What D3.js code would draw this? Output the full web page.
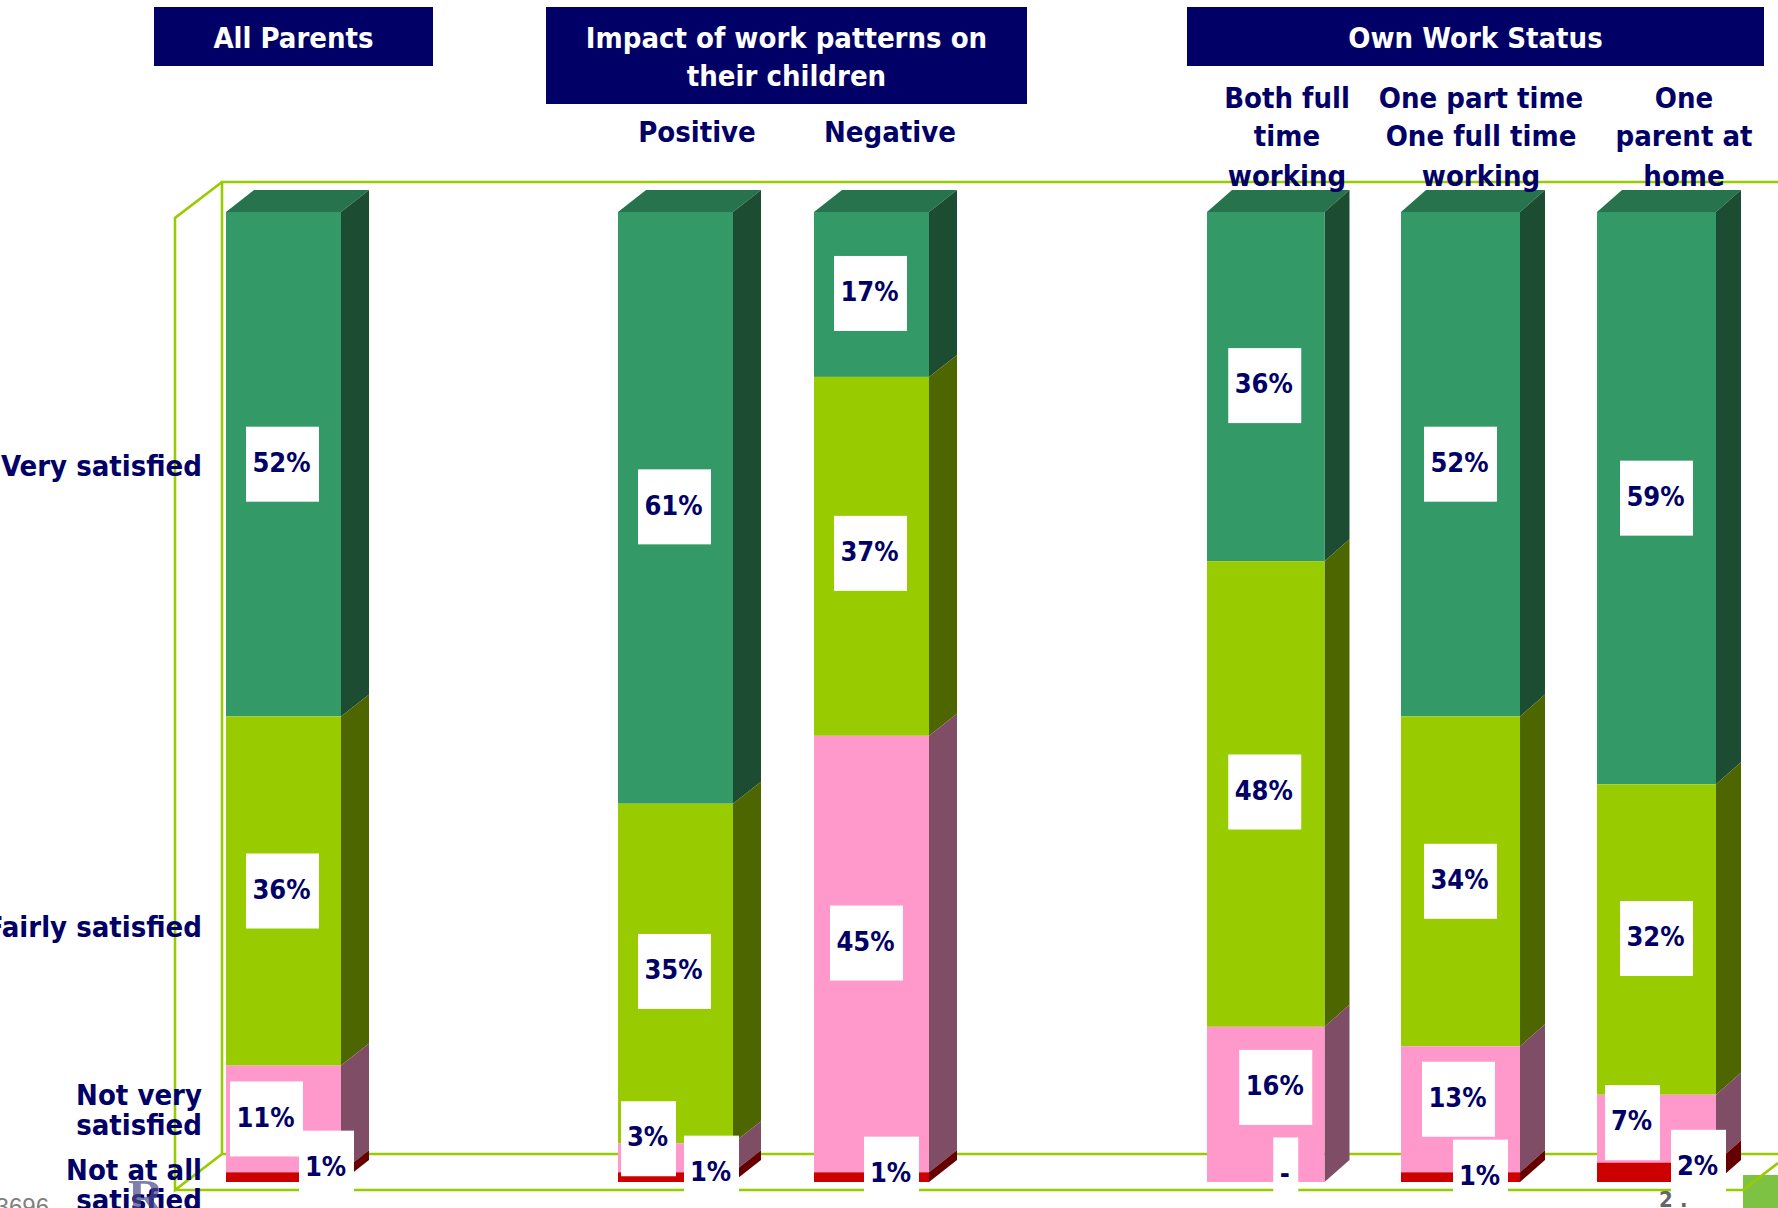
<!DOCTYPE html>
<html>
<head>
<meta charset="utf-8">
<script src="https://cdn.jsdelivr.net/npm/d3@7"></script>
<style>
  html, body { margin: 0; padding: 0; background: #fff; overflow: hidden; }
  svg { display: block; }
  text { font-family: "DejaVu Sans Condensed", "DejaVu Sans", sans-serif; font-weight: 700; fill: #000066; }
</style>
</head>
<body>
<div id="root"></div>
<script>
'use strict';

// data, percent of each bar
var bars = ['All Parents', 'Positive', 'Negative', 'Both full time working', 'One part time One full time working', 'One parent at home'];
var levels = ['Very satisfied', 'Fairly satisfied', 'Not very satisfied', 'Not at all satisfied'];
var verySatisfied = [52, 61, 17, 36, 52, 59];
var fairlySatisfied = [36, 35, 37, 48, 34, 32];
var notVerySatisfied = [11, 3, 45, 16, 13, 7];
var notAtAllSatisfied = [1, 1, 1, 0, 1, 2];
var seriesValues = [verySatisfied, fairlySatisfied, notVerySatisfied, notAtAllSatisfied];

var rows = bars.map(function (name, i) {
  var row = { name: name };
  levels.forEach(function (level, j) { row[level] = seriesValues[j][i]; });
  return row;
});

// colours of the faces, same order as levels
var frontColors = ['#339966', '#99CC00', '#FF99CC', '#CC0000'];
var sideColors = ['#1C4D33', '#4D6600', '#804D66', '#660000'];
var topColor = '#26734D';
var frameColor = '#99CC00';
var navy = '#000066';

var width = 1778, height = 1208;
var svg = d3.select('#root').append('svg').attr('width', width).attr('height', height);

// left chart has a gap slot after All Parents, right chart is a bit wider
var xLeft = d3.scalePoint().domain([bars[0], '', bars[1], bars[2]]).range([226, 814]);
var xRight = d3.scaleOrdinal().domain(bars.slice(3)).range([1207, 1401, 1597]);
var wRight = d3.scaleOrdinal().domain(bars.slice(3)).range([117.5, 119, 119]);
var y = d3.scaleLinear().domain([0, 100]).range([1182, 212]);

function barX(name) {
  return bars.indexOf(name) < 3 ? xLeft(name) : xRight(name);
}
function barW(name) {
  return bars.indexOf(name) < 3 ? 115 : wRight(name);
}
function depthX(name) {
  return bars.indexOf(name) < 3 ? 28 : 25;
}
var depthY = 22;

// frame
var frame = svg.append('g').attr('fill', 'none').attr('stroke', frameColor).attr('stroke-width', 2.6);
svg.append('rect').attr('x', 1743).attr('y', 1175).attr('width', 35).attr('height', 33).attr('fill', '#7DC242').lower();
[
  [[1778, 182], [222, 182], [222, 1154], [1778, 1154]],
  [[222, 182], [175, 218], [175, 1190], [222, 1154]],
  [[175, 1190], [1743, 1190], [1778, 1163]]
].forEach(function (pts) {
  frame.append('path').attr('d', d3.line()(pts));
});

// bars
var stack = d3.stack().keys(levels)(rows);
var barsG = svg.append('g');

rows.forEach(function (row, i) {
  var x = barX(row.name), w = barW(row.name), dx = depthX(row.name);
  var g = barsG.append('g');

  g.append('path')
    .attr('fill', topColor)
    .attr('d', d3.line()([[x, y(100)], [x + dx, y(100) - depthY], [x + w + dx, y(100) - depthY], [x + w, y(100)]]) + 'Z');

  stack.forEach(function (layer, j) {
    // d3.stack runs bottom up, flip so Very satisfied sits on top
    var y0 = y(100 - layer[i][0]), y1 = y(100 - layer[i][1]);
    g.append('path')
      .attr('fill', sideColors[j])
      .attr('d', d3.line()([[x + w, y0], [x + w + dx, y0 - depthY], [x + w + dx, y1 - depthY], [x + w, y1]]) + 'Z');
    g.append('rect')
      .attr('x', x).attr('y', y0)
      .attr('width', w).attr('height', y1 - y0)
      .attr('fill', frontColors[j]);
  });
});

// how far each white label box sits from the middle of its segment
var labelNudge = [
  [[-1, 0], [-1, 0], [-17, 0], [43, -9]],
  [[-1, -1], [-1, -2], [-27, -19], [36, -4]],
  [[-1, -1], [-1, -3], [-5, -11], [20, -3]],
  [[-1, -1], [-1, -2], [10, -17], [20, -7]],
  [[0, 0], [0, 0], [-2, -10], [20, 0]],
  [[0, 0], [0, -1], [-24, -6], [42, -5]]
];

var labels = svg.append('g');
rows.forEach(function (row, i) {
  stack.forEach(function (layer, j) {
    var value = layer[i].data[levels[j]];
    var cx = barX(row.name) + barW(row.name) / 2 + labelNudge[i][j][0];
    var cy = (y(100 - layer[i][0]) + y(100 - layer[i][1])) / 2 + labelNudge[i][j][1];
    var boxW = value === 0 ? 25 : (value < 10 ? 55 : 73);
    labels.append('rect')
      .attr('x', cx - boxW / 2).attr('y', cy - 37.5)
      .attr('width', boxW).attr('height', 75)
      .attr('fill', '#fff');
    labels.append('text')
      .attr('x', cx - 1).attr('y', cy - 2)
      .attr('dy', '0.36em')
      .attr('text-anchor', 'middle')
      .attr('font-size', 27)
      .text(value === 0 ? '-' : value + '%');
  });
});

// header boxes
var headers = [
  { lines: ['All Parents'], x: 154, w: 279, h: 59 },
  { lines: ['Impact of work patterns on', 'their children'], x: 546, w: 481, h: 97 },
  { lines: ['Own Work Status'], x: 1187, w: 577, h: 59 }
];
headers.forEach(function (h) {
  svg.append('rect').attr('x', h.x).attr('y', 7).attr('width', h.w).attr('height', h.h).attr('fill', navy);
  h.lines.forEach(function (line, i) {
    svg.append('text')
      .attr('x', h.x + h.w / 2).attr('y', 48 + i * 38)
      .attr('text-anchor', 'middle').attr('font-size', 29)
      .style('fill', '#fff')
      .text(line);
  });
});

// column captions
var captions = [
  { lines: ['Positive'], x: 697, y: 142 },
  { lines: ['Negative'], x: 890, y: 142 },
  { lines: ['Both full', 'time', 'working'], x: 1287, y: 108 },
  { lines: ['One part time', 'One full time', 'working'], x: 1481, y: 108 },
  { lines: ['One', 'parent at', 'home'], x: 1684, y: 108 }
];
captions.forEach(function (c) {
  c.lines.forEach(function (line, i) {
    svg.append('text')
      .attr('x', c.x).attr('y', c.y + i * 38 + (i === 2 ? 2 : 0))
      .attr('text-anchor', 'middle').attr('font-size', 29)
      .text(line);
  });
});

// row labels, the first two run off the left edge like the original
var rowLabels = [
  { lines: ['Very satisfied'], y: 476 },
  { lines: ['Fairly satisfied'], y: 937 },
  { lines: ['Not very', 'satisfied'], y: 1105 },
  { lines: ['Not at all', 'satisfied'], y: 1180 }
];
rowLabels.forEach(function (r) {
  r.lines.forEach(function (line, i) {
    svg.append('text')
      .attr('x', 202).attr('y', r.y + i * 30)
      .attr('text-anchor', 'end').attr('font-size', 29)
      .text(line);
  });
});

// footer bits
svg.append('text').attr('x', 49).attr('y', 1215).attr('text-anchor', 'end').attr('font-size', 24)
  .style('fill', '#808080').style('font-weight', 400).style('font-family', 'Liberation Sans').text('3696');
svg.append('text').attr('x', 128).attr('y', 1214).attr('font-size', 50)
  .style('fill', '#4A4A8C').style('opacity', 0.7).style('font-family', 'Liberation Serif').text('R');
svg.append('text').attr('x', 1659).attr('y', 1207).attr('font-size', 22)
  .style('fill', '#666').text('2');
svg.append('text').attr('x', 1680).attr('y', 1207).attr('font-size', 22)
  .style('fill', '#666').text('.');
</script>
</body>
</html>
